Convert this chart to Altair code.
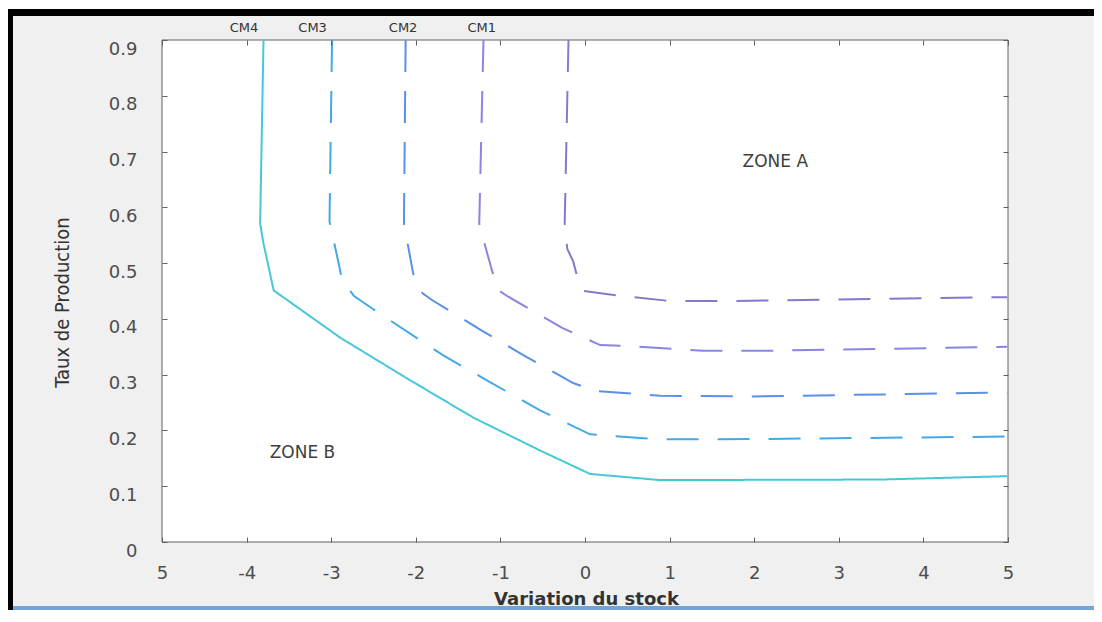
import altair as alt
import pandas as pd

# ---- data ----
series_names = ["CM4", "CM3", "CM2", "CM1", "CM0"]
series_colors = ["#45c8d8", "#45a8e6", "#5a90ea", "#8a84e2", "#8878cc"]
series_dash = [[1, 0], [32, 19], [32, 19], [32, 19], [32, 19]]

cm4_x = [-3.80, -3.84, -3.80, -3.68, -2.89, -2.10, -1.32, -0.53, 0.06, 0.89, 3.50, 4.99]
cm4_y = [0.900, 0.571, 0.535, 0.451, 0.366, 0.293, 0.223, 0.164, 0.122, 0.111, 0.112, 0.118]

cm3_x = [-2.99, -3.02, -2.92, -2.87, -2.73, -2.47, -1.67, -1.15, -0.53, 0.06, 0.89, 1.60, 4.99]
cm3_y = [0.900, 0.575, 0.505, 0.469, 0.441, 0.414, 0.334, 0.289, 0.236, 0.193, 0.184, 0.184, 0.189]

cm2_x = [-2.12, -2.14, -2.06, -2.02, -1.92, -1.80, -1.23, -0.73, -0.14, 0.12, 0.89, 1.99, 4.99]
cm2_y = [0.900, 0.571, 0.505, 0.473, 0.446, 0.433, 0.380, 0.335, 0.285, 0.271, 0.262, 0.261, 0.268]

cm1_x = [-1.20, -1.25, -1.15, -1.09, -1.02, -0.92, -0.27, 0.18, 0.42, 1.39, 2.23, 4.99]
cm1_y = [0.900, 0.571, 0.514, 0.482, 0.451, 0.441, 0.384, 0.353, 0.352, 0.343, 0.343, 0.350]

cm0_x = [-0.195, -0.24, -0.21, -0.14, -0.08, -0.02, 0.38, 1.01, 1.69, 4.99]
cm0_y = [0.900, 0.571, 0.526, 0.503, 0.469, 0.450, 0.442, 0.432, 0.432, 0.439]

cm_label_text = ["CM4", "CM3", "CM2", "CM1"]
cm_label_x = [-4.03, -3.22, -2.15, -1.22]
cm_label_y = [0.922, 0.922, 0.922, 0.922]

zone_text = ["ZONE A", "ZONE B"]
zone_x = [2.25, -3.34]
zone_y = [0.681, 0.160]

x_ticks = [-5, -4, -3, -2, -1, 0, 1, 2, 3, 4, 5]
y_ticks = [0, 0.1, 0.2, 0.3, 0.4, 0.5, 0.6, 0.7, 0.8, 0.9]
x_domain = [-5, 5]
y_domain = [0, 0.9]

# ---- tables ----
rows = []
for name, xs, ys in zip(series_names,
                        [cm4_x, cm3_x, cm2_x, cm1_x, cm0_x],
                        [cm4_y, cm3_y, cm2_y, cm1_y, cm0_y]):
    for i, (xv, yv) in enumerate(zip(xs, ys)):
        rows.append({"series": name, "idx": i, "x": xv, "y": yv})
curves = pd.DataFrame(rows)
cm_labels = pd.DataFrame({"text": cm_label_text, "x": cm_label_x, "y": cm_label_y})
zones = pd.DataFrame({"text": zone_text, "x": zone_x, "y": zone_y})
plot_box = pd.DataFrame({"x0": [x_domain[0]], "x1": [x_domain[1]],
                         "y0": [y_domain[0]], "y1": [y_domain[1]]})

W, H = 846, 502
PAD = {"left": 154, "top": 32, "right": 86, "bottom": 68}

xscale = alt.Scale(domain=x_domain, nice=False, zero=False)
yscale = alt.Scale(domain=y_domain, nice=False, zero=False)
TICK = "#606060"

xaxis = alt.Axis(
    values=x_ticks,
    labelExpr="datum.value == -5 ? '5' : (datum.value < 0 ? '-' + abs(datum.value) : '' + datum.value)",
    domain=False, grid=False, ticks=True, tickSize=5, tickColor=TICK,
    offset=-5, labelPadding=22, labelFont="DejaVu Sans", labelFontSize=18,
    labelColor="#4d4d4d", labelFlush=False, labelOverlap=False,
    title="Variation du stock", titleFont="DejaVu Sans", titleFontSize=18,
    titleFontWeight="bold", titleColor="#333333", titleX=424, titleY=62,
    titleBaseline="middle", zindex=1,
)
yaxis = alt.Axis(
    values=y_ticks,
    labelExpr="datum.value == 0 ? '0' : format(datum.value, '.1f')",
    domain=False, grid=False, ticks=True, tickSize=5, tickColor=TICK,
    offset=-5, labelPadding=25, labelOffset=9, labelFont="DejaVu Sans",
    labelFontSize=18, labelColor="#4d4d4d", labelFlush=False, labelOverlap=False,
    title="Taux de Production", titleFont="Liberation Sans Narrow, DejaVu Sans Condensed, Liberation Sans",
    titleFontSize=20, titleFontWeight="normal", titleColor="#333333",
    titleX=-105, titleY=262, titleBaseline="middle", zindex=1,
)
xaxis_top = alt.Axis(orient="top", values=x_ticks, labels=False, domain=False, grid=False,
                     ticks=True, tickSize=5, tickColor=TICK, offset=-5, title=None, zindex=1)
yaxis_right = alt.Axis(orient="right", values=y_ticks, labels=False, domain=False, grid=False,
                       ticks=True, tickSize=5, tickColor=TICK, offset=-5, title=None, zindex=1)

one = alt.Data(values=[{}])

black = alt.Chart(one).mark_rect(color="#000000").encode(
    x=alt.value(-154), x2=alt.value(932), y=alt.value(-31), y2=alt.value(570))
gray = alt.Chart(one).mark_rect(color="#f0f0f0").encode(
    x=alt.value(-149), x2=alt.value(932), y=alt.value(-24), y2=alt.value(566))
blue = alt.Chart(one).mark_rect(color="#72a6d2").encode(
    x=alt.value(-149), x2=alt.value(932), y=alt.value(566), y2=alt.value(570))

box = alt.Chart(plot_box).mark_rect(fill="white", stroke="#606060", strokeWidth=1).encode(
    x=alt.X("x0:Q", scale=xscale, axis=xaxis_top),
    x2="x1:Q",
    y=alt.Y("y0:Q", scale=yscale, axis=yaxis_right),
    y2="y1:Q",
)

lines = alt.Chart(curves).mark_line(strokeWidth=2).encode(
    x=alt.X("x:Q", scale=xscale, axis=xaxis),
    y=alt.Y("y:Q", scale=yscale, axis=yaxis),
    color=alt.Color("series:N", scale=alt.Scale(domain=series_names, range=series_colors), legend=None),
    strokeDash=alt.StrokeDash("series:N", scale=alt.Scale(domain=series_names, range=series_dash), legend=None),
    order=alt.Order("idx:Q"),
)

cm_text = alt.Chart(cm_labels).mark_text(font="DejaVu Sans", fontSize=13, color="#333333").encode(
    x=alt.X("x:Q", scale=xscale, axis=None),
    y=alt.Y("y:Q", scale=yscale, axis=None),
    text="text:N",
)

zone_marks = alt.Chart(zones).mark_text(font="DejaVu Sans", fontSize=17, color="#404040").encode(
    x=alt.X("x:Q", scale=xscale, axis=None),
    y=alt.Y("y:Q", scale=yscale, axis=None),
    text="text:N",
)

chart = alt.layer(black, gray, blue, box, lines, cm_text, zone_marks).resolve_axis(
    x="independent", y="independent"
).properties(
    width=W, height=H,
    autosize=alt.AutoSizeParams(type="none"),
    padding=PAD,
    background="white",
).configure_view(stroke=None)

chart.save("out.html", embed_options={"renderer": "svg", "actions": False})
